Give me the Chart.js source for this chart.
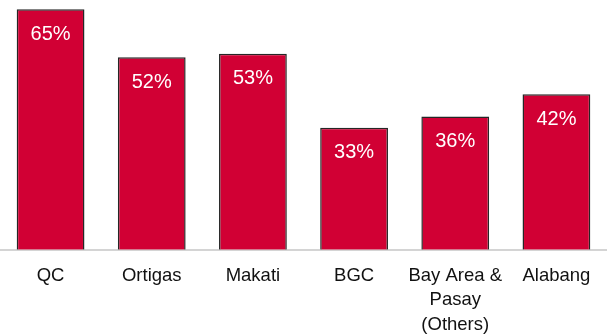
<!DOCTYPE html>
<html>
<head>
<meta charset="utf-8">
<script src="https://cdn.jsdelivr.net/npm/chart.js@4"></script>
<style>
  html, body { margin: 0; padding: 0; background: #fff; }
  #wrap { width: 607px; height: 336px; }
</style>
</head>
<body>
<div id="wrap"><canvas id="shareChart"></canvas></div>
<script>
const locations = ['QC', 'Ortigas', 'Makati', 'BGC', ['Bay Area &', 'Pasay', '(Others)'], 'Alabang'];
const shares = [65, 52, 53, 33, 36, 42];

// percentage written just under the top of each bar
const barLabels = {
  id: 'barLabels',
  afterDatasetsDraw(chart) {
    const ctx = chart.ctx;
    const meta = chart.getDatasetMeta(0);
    ctx.save();
    ctx.fillStyle = '#ffffff';
    ctx.font = '20px "Liberation Sans", Arial, sans-serif';
    ctx.textAlign = 'center';
    ctx.textBaseline = 'middle';
    meta.data.forEach((bar, i) => {
      ctx.fillText(shares[i] + '%', bar.x, bar.y + 25);
    });
    ctx.restore();
  }
};

new Chart(document.getElementById('shareChart'), {
  type: 'bar',
  data: {
    labels: locations,
    datasets: [{
      data: shares,
      backgroundColor: '#d10034',
      borderColor: '#262626',
      borderWidth: 1.5,
      categoryPercentage: 0.67,
      barPercentage: 1.0
    }]
  },
  options: {
    responsive: true,
    maintainAspectRatio: false,
    animation: false,
    layout: { padding: { top: 0, left: 0, right: 0, bottom: -15 } },
    plugins: {
      legend: { display: false },
      tooltip: { enabled: false }
    },
    scales: {
      x: {
        grid: { display: false, drawTicks: false },
        border: { display: true, color: '#d4d4d4', width: 2 },
        ticks: {
          color: '#111111',
          padding: 14,
          maxRotation: 0,
          autoSkip: false,
          font: { size: 18.5, family: '"Liberation Sans", Arial, sans-serif', lineHeight: 1.32 }
        }
      },
      y: {
        display: false,
        min: 0,
        max: 67.5
      }
    }
  },
  plugins: [barLabels]
});
</script>
</body>
</html>
